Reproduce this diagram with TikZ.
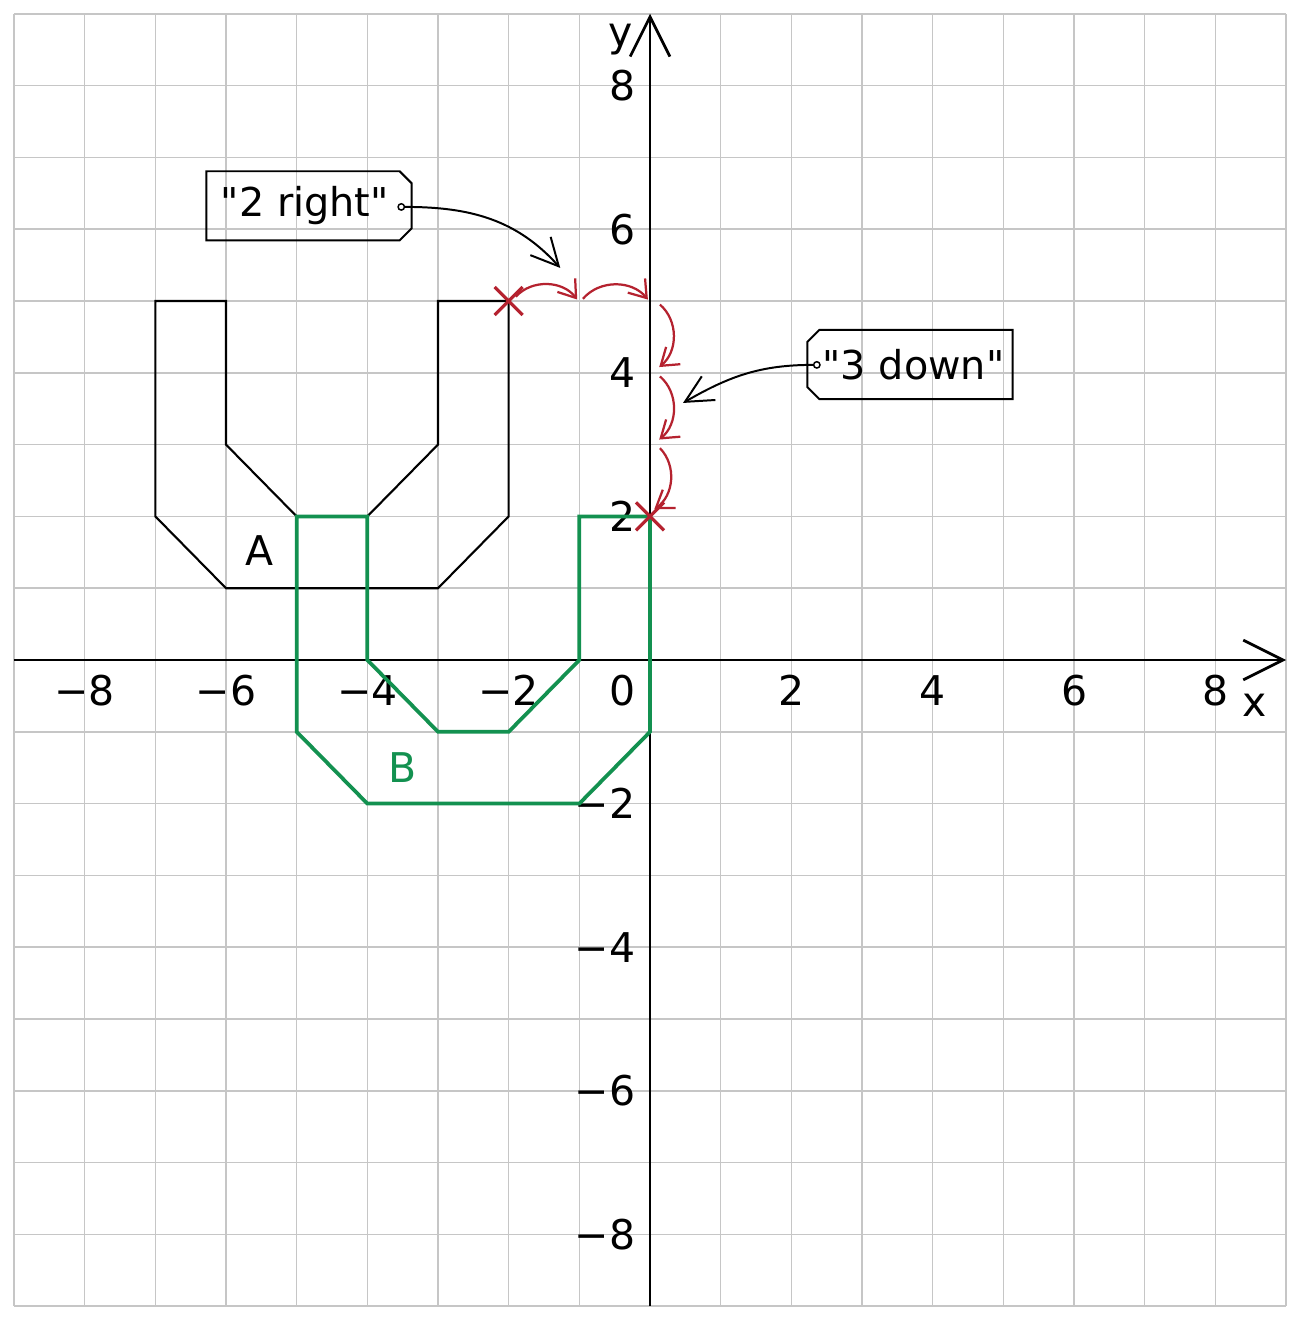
\documentclass[tikz,border=0pt]{standalone}
\usepackage{fontspec}
\setmainfont{DejaVu Sans}[Ligatures=TeXOff]
\usetikzlibrary{arrows.meta,shapes.misc}
\definecolor{gridgray}{HTML}{C6C6C6}
\definecolor{shapegreen}{HTML}{139150}
\definecolor{markred}{HTML}{B5222F}
\begin{document}
\begin{tikzpicture}[x=1cm,y=1.016cm,
  font=\fontsize{16.5}{19}\selectfont,
  gridline/.style={gridgray, line width=0.6pt},
  axisline/.style={black, line width=1.1pt, -{Straight Barb[length=16pt,width=16pt,line width=1.1pt]}},
  shapeA/.style={black, line width=0.85pt, line join=miter},
  shapeB/.style={shapegreen, line width=1.5pt, line join=miter},
  ticklab/.style={inner sep=0pt, anchor=center},
  ylab/.style={inner sep=0pt, anchor=east},
  redarc/.style={markred, line width=0.9pt, -{Straight Barb[length=6.5pt,width=9pt,line width=0.9pt]}, bend left=50},
  redcross/.style={cross out, draw=markred, line width=1.3pt, minimum size=0.35cm, inner sep=0pt},
  tagbox/.style={inner sep=0pt, minimum width=2.89cm, minimum height=0.965cm, font=\fontsize{16}{19}\selectfont},
  tagline/.style={black, line width=0.8pt, line join=miter},
  tagdot/.style={circle, draw=black, line width=0.6pt, inner sep=0pt, minimum size=0.09cm, fill=white},
  callarrow/.style={black, line width=0.8pt, -{Straight Barb[length=11pt,width=11pt,line width=0.8pt]}}
]
\useasboundingbox[fill=white] (-9.198,-9.192) rectangle (9.198,9.192);
% grid
\foreach \g in {-9,...,9} {
  \draw[gridline] (\g,-9) -- (\g,9);
  \draw[gridline] (-9,\g) -- (9,\g);
}
% axes
\draw[axisline] (-9,0) -- (9,0);
\draw[axisline] (0,-9) -- (0,9);
\node[ticklab] (xl) at (8.56,-0.63) {x};
\node[ticklab] (yl) at (-0.42,8.64) {y};
% x tick labels
\foreach \v/\t in {-8/−8,-6/−6,-4/−4,-2/−2,2/2,4/4,6/6,8/8}
  \node[ticklab] (xt\v) at (\v,-0.42) {\t};
\node[ylab] (xt0) at (-0.2,-0.42) {0};
% y tick labels
\foreach \v/\t in {8/8,6/6,4/4,2/2,-2/−2,-4/−4,-6/−6,-8/−8}
  \node[ylab] (yt\v) at (-0.2,\v) {\t};
% shape A
\draw[shapeA] (-7,5) -- (-6,5) -- (-6,3) -- (-5,2) -- (-4,2) -- (-3,3) -- (-3,5) -- (-2,5) -- (-2,2) -- (-3,1) -- (-6,1) -- (-7,2) -- cycle;
\node (labA) at (-5.53,1.52) {A};
% shape B
\draw[shapeB] (-5,2) -- (-4,2) -- (-4,0) -- (-3,-1) -- (-2,-1) -- (-1,0) -- (-1,2) -- (0,2) -- (0,-1) -- (-1,-2) -- (-4,-2) -- (-5,-1) -- cycle;
\node[text=shapegreen] (labB) at (-3.5,-1.5) {B};
% red arcs
\coordinate (r1s) at (-1.9,5.06);
\coordinate (r1e) at (-1.03,5.02);
\coordinate (r2s) at (-0.95,5.03);
\coordinate (r2e) at (-0.03,5.02);
\coordinate (r3s) at (0.14,4.95);
\coordinate (r3e) at (0.13,4.08);
\coordinate (r4s) at (0.14,3.95);
\coordinate (r4e) at (0.13,3.07);
\coordinate (r5s) at (0.14,2.95);
\coordinate (r5e) at (0.06,2.1);
\draw[redarc] (r1s) to (r1e);
\draw[redarc] (r2s) to (r2e);
\draw[redarc] (r3s) to (r3e);
\draw[redarc] (r4s) to (r4e);
\draw[redarc] (r5s) to (r5e);
\node[redcross] (xa) at (-2,5) {};
\node[redcross] (xb) at (0,2) {};
% tag "2 right"
\node[tagbox] (t2r) at (-4.825,6.325) {"2 right"\hspace*{0.12cm}};
\draw[tagline] (t2r.north west) -- ([xshift=-0.17cm]t2r.north east) -- ([yshift=-0.17cm]t2r.north east) -- ([yshift=0.17cm]t2r.south east) -- ([xshift=-0.17cm]t2r.south east) -- (t2r.south west) -- cycle;
\node[tagdot] (c2r) at (-3.52,6.31) {};
\coordinate (a2r) at (-1.27,5.46);
\draw[callarrow] (c2r.east) to[out=0,in=132] (a2r);
% tag "3 down"
\node[tagbox] (t3d) at (3.678,4.115) {\hspace*{0.1cm}"3 down"};
\draw[tagline] ([xshift=0.17cm]t3d.north west) -- (t3d.north east) -- (t3d.south east) -- ([xshift=0.17cm]t3d.south west) -- ([yshift=0.17cm]t3d.south west) -- ([yshift=-0.17cm]t3d.north west) -- cycle;
\node[tagdot] (c3d) at (2.36,4.11) {};
\coordinate (a3d) at (0.467,3.58);
\draw[callarrow] (c3d.west) to[out=180,in=30] (a3d);
\end{tikzpicture}
\end{document}
